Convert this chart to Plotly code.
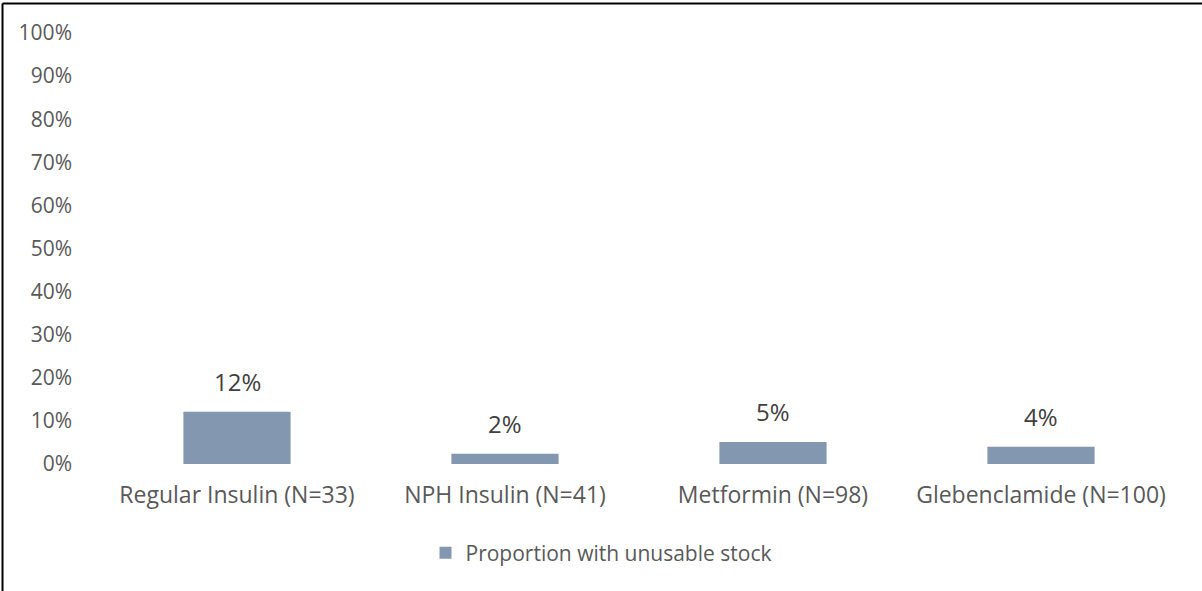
import plotly.graph_objects as go

# Share of facilities reporting unusable stock, by medicine
categories = ["Regular Insulin (N=33)", "NPH Insulin (N=41)", "Metformin (N=98)", "Glebenclamide (N=100)"]
proportion_unusable = [0.121, 0.024, 0.051, 0.04]
y_tick_values = [i / 10 for i in range(11)]
y_tick_labels = [f"{i * 10}%" for i in range(11)]
series_name = "Proportion with unusable stock"

W, H = 1202, 591
L, R, T, B = 103, 27, 33, 127
plot_w = W - L - R
plot_h = H - T - B

text_color = "#595959"
label_color = "#404040"
bar_color = "#8497B0"
font_family = "'Open Sans', sans-serif"

fig = go.Figure()
fig.add_trace(go.Bar(
    x=categories,
    y=proportion_unusable,
    name=series_name,
    marker=dict(color=bar_color, line=dict(width=0)),
    width=0.4,
    showlegend=True,
))

# Value labels above each bar
for cat, val in zip(categories, proportion_unusable):
    fig.add_annotation(
        x=cat, y=val, text=f"{val:.0%}", showarrow=False,
        yanchor="bottom", yshift=12,
        font=dict(family=font_family, size=24, color=label_color),
    )

# Chart frame (top and left edges)
fig.add_shape(type="line", xref="paper", yref="paper",
              x0=(2.5 - L) / plot_w, x1=(W + 5 - L) / plot_w,
              y0=1 + (T - 3.5) / plot_h, y1=1 + (T - 3.5) / plot_h,
              line=dict(color="black", width=2))
fig.add_shape(type="line", xref="paper", yref="paper",
              x0=(2.5 - L) / plot_w, x1=(2.5 - L) / plot_w,
              y0=1 + (T - 3.5) / plot_h, y1=-(H + 5 - T - plot_h) / plot_h,
              line=dict(color="black", width=2))

fig.update_layout(
    width=W, height=H,
    margin=dict(l=L, r=R, t=T, b=B),
    paper_bgcolor="white", plot_bgcolor="white",
    font=dict(family=font_family, size=21, color=text_color),
    bargap=0.6,
    legend=dict(orientation="h", x=0.5 - 38 / plot_w, xanchor="center",
                y=(464 - 553) / plot_h, yanchor="middle",
                font=dict(size=21, color=text_color),
                itemwidth=30),
    xaxis=dict(showgrid=False, showline=False, zeroline=False,
               ticks="", ticklabelstandoff=15,
               tickfont=dict(size=23, color=text_color)),
    yaxis=dict(range=[0, 1], tickvals=y_tick_values, ticktext=y_tick_labels,
               showgrid=False, showline=False, zeroline=False,
               ticks="", ticklabelstandoff=30,
               tickfont=dict(size=21, color=text_color)),
)

fig.write_html("out.html")
